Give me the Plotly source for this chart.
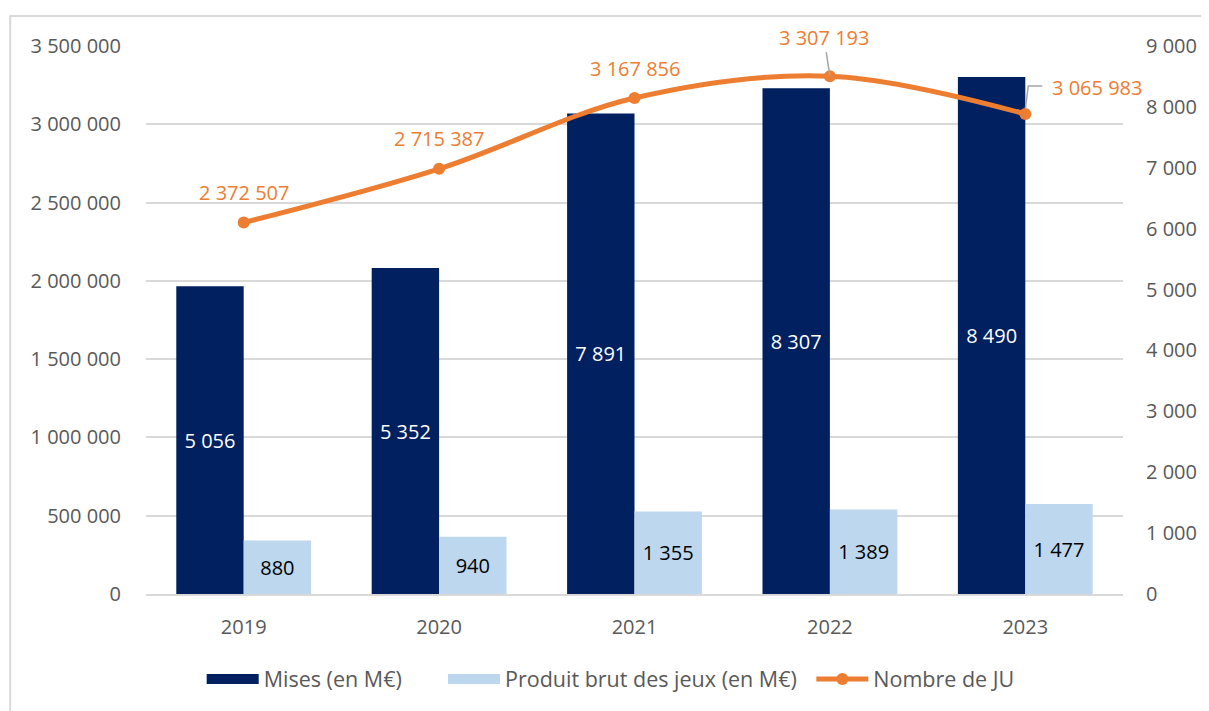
import plotly.graph_objects as go

YEARS = ["2019", "2020", "2021", "2022", "2023"]
MISES = [5056, 5352, 7891, 8307, 8490]
PBJ = [880, 940, 1355, 1389, 1477]
NB_JU = [2372507, 2715387, 3167856, 3307193, 3065983]
LEFT_TICKS = list(range(0, 3500001, 500000))
RIGHT_TICKS = list(range(0, 9001, 1000))
NAMES = ["Mises (en M€)", "Produit brut des jeux (en M€)", "Nombre de JU"]

DARK = "#002060"
LIGHT = "#BDD7EE"
ORANGE = "#ED7D31"
GRID = "#D9D9D9"
TXT = "#595959"
FONT = "Open Sans"
FS = 20


def fmt(v):
    return f"{v:,}".replace(",", " ")


fig = go.Figure()
fig.add_bar(x=YEARS, y=MISES, name=NAMES[0], marker=dict(color=DARK, line=dict(width=0)),
            texttemplate="%{y:,}", textposition="inside", insidetextanchor="middle",
            textfont=dict(color="white", size=FS, family=FONT), constraintext="none",
            showlegend=False, yaxis="y", hoverinfo="skip")
fig.add_bar(x=YEARS, y=PBJ, name=NAMES[1], marker=dict(color=LIGHT, line=dict(width=0)),
            texttemplate="%{y:,}", textposition="inside", insidetextanchor="middle",
            textfont=dict(color="black", size=FS, family=FONT), constraintext="none",
            showlegend=False, yaxis="y", hoverinfo="skip")
fig.add_scatter(x=YEARS, y=NB_JU, name=NAMES[2], mode="lines+markers",
                line=dict(color=ORANGE, width=5, shape="spline", smoothing=1),
                marker=dict(size=12, color=ORANGE), yaxis="y2", showlegend=False,
                hoverinfo="skip")

# legend entries, one legend each so they can be spaced like the original
fig.add_scatter(x=[None], y=[None], mode="lines", line=dict(color=DARK, width=13),
                name=NAMES[0], legend="legend")
fig.add_scatter(x=[None], y=[None], mode="lines", line=dict(color=LIGHT, width=13),
                name=NAMES[1], legend="legend2")
fig.add_scatter(x=[None], y=[None], mode="lines+markers", line=dict(color=ORANGE, width=5),
                marker=dict(size=12, color=ORANGE), name=NAMES[2], legend="legend3")

annotations = []
for i, (yr, v) in enumerate(zip(YEARS, NB_JU)):
    if i < 3:
        annotations.append(dict(x=i, y=v, xref="x", yref="y2", text=fmt(v), showarrow=False,
                                yshift=30, font=dict(color=ORANGE, size=FS, family=FONT)))
    elif i == 3:
        annotations.append(dict(x=i, y=v, xref="x", yref="y2", text=fmt(v), showarrow=True,
                                ax=-6, ay=-39, arrowhead=0, arrowwidth=1.5, arrowcolor="#A6A6A6",
                                font=dict(color=ORANGE, size=FS, family=FONT)))
    else:
        annotations.append(dict(x=i, y=v, xref="x", yref="y2", text=fmt(v), showarrow=False,
                                xanchor="left", xshift=25, yshift=26,
                                font=dict(color=ORANGE, size=FS, family=FONT)))

shapes = [
    dict(type="path", xref="x", yref="y2", xsizemode="pixel", ysizemode="pixel",
         xanchor=4, yanchor=NB_JU[4], path="M 0,5 L 3,28 L 17,28",
         line=dict(color="#A6A6A6", width=1.5)),
    dict(type="rect", xref="paper", yref="paper", x0=-0.139, x1=1.3, y0=-0.4, y1=1.0546,
         line=dict(color=GRID, width=2), layer="below"),
]


def leg(x):
    return dict(orientation="h", x=x, xanchor="left", y=-0.155, yanchor="middle",
                font=dict(size=21.5, color=TXT), itemwidth=52, bgcolor="rgba(0,0,0,0)")


fig.update_layout(
    width=1201, height=703,
    margin=dict(l=138, r=83, t=38, b=116),
    paper_bgcolor="white", plot_bgcolor="white",
    separators=", ",
    barmode="group", bargap=0.31, bargroupgap=0,
    font=dict(family=FONT, size=FS, color=TXT),
    xaxis=dict(type="category", categoryorder="array", categoryarray=YEARS,
               range=[-0.5, len(YEARS) - 0.5], autorange=False,
               showline=True, linecolor=GRID, linewidth=2, ticks="",
               tickfont=dict(size=FS, color=TXT), ticklabelstandoff=14, showgrid=False),
    yaxis=dict(side="right", range=[0, 9000], tickvals=RIGHT_TICKS, tickformat=",",
               showgrid=False, zeroline=False, showline=False, ticks="",
               tickfont=dict(size=FS, color=TXT), ticklabelstandoff=22),
    yaxis2=dict(overlaying="y", side="left", range=[0, 3500000], tickvals=LEFT_TICKS,
                tickformat=",", showgrid=True, gridcolor=GRID, gridwidth=1.5,
                zeroline=False, showline=False, ticks="",
                tickfont=dict(size=FS, color=TXT), ticklabelstandoff=24),
    legend=leg(0.057),
    legend2=leg(0.304),
    legend3=leg(0.681),
    annotations=annotations,
    shapes=shapes,
)

fig.write_html("out.html")
